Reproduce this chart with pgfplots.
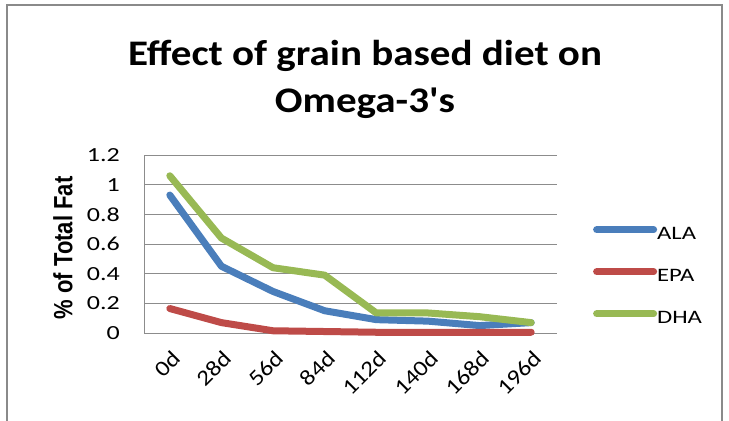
\documentclass[border=0pt]{standalone}
\usepackage{pgfplots}
\pgfplotsset{compat=1.18}
\usepackage{fontspec}
\setmainfont{Carlito}[FakeStretch=1.3]
\newfontfamily\titlefont{Carlito}[FakeStretch=1.14, Ligatures=TeXOff]
\newfontfamily\xtickfont{Carlito}[FakeStretch=1.15]
\newfontfamily\ylabfont{Liberation Sans}
\definecolor{alac}{HTML}{4A7EBB}
\definecolor{epac}{HTML}{BE4B48}
\definecolor{dhac}{HTML}{98B954}
\definecolor{gridc}{HTML}{8C8C8C}
\definecolor{framec}{HTML}{8A8A8A}
\begin{document}
\begin{tikzpicture}[x=1bp,y=1bp]
\useasboundingbox (0,0) rectangle (729,420);
\draw[framec, line width=1.6bp] (7,-20) -- (7,415) -- (722,415) -- (722,-20);
\node[anchor=base, inner sep=0pt, font=\titlefont\fontsize{36bp}{42bp}\selectfont\bfseries] at (365,355) {Effect of grain based diet on};
\node[anchor=base, inner sep=0pt, font=\titlefont\fontsize{36bp}{42bp}\selectfont\bfseries] at (365,308) {Omega-3's};
\begin{axis}[
  at={(144bp,87bp)}, anchor=south west,
  scale only axis, width=413bp, height=178bp,
  xmin=-0.5, xmax=7.5, ymin=0, ymax=1.2,
  xtick={0,...,7},
  xticklabels={0d,28d,56d,84d,112d,140d,168d,196d},
  ytick={0,0.2,...,1.2},
  yticklabels={0,0.2,0.4,0.6,0.8,1,1.2},
  axis x line*=bottom, axis y line*=left,
  axis line style={gridc, line width=0.8bp, -},
  major tick length=0pt,
  ymajorgrids, grid style={gridc, line width=0.8bp},
  /pgf/number format/assume math mode=true,
  yticklabel style={font=\fontsize{20bp}{24bp}\selectfont, anchor=east, inner sep=0pt, xshift=-24bp},
  xticklabel style={font=\fontsize{22bp}{26bp}\xtickfont, xshift=1bp, yshift=-16bp, rotate=45, anchor=north east, inner sep=0pt},
  ylabel={\ylabfont\bfseries\fontsize{22bp}{26bp}\selectfont \% of Total Fat},
  ylabel style={at={(axis description cs:-0.196,0.478)}, anchor=center, yscale=1.2, inner sep=0pt},
  clip=false,
  legend style={at={(axis description cs:1.087,0.604)}, anchor=north west, draw=none, fill=none, inner sep=0pt,
    font=\fontsize{19bp}{23bp}\selectfont, row sep=24bp,
    nodes={inner sep=0pt, text height=14bp, text depth=4bp, anchor=west}},
  legend cell align=left,
  legend image code/.code={\draw[#1, line cap=round] (0bp,5bp) -- (57bp,5bp);},
  every axis plot/.append style={line width=7bp, line join=round, line cap=round, mark=none},
]
\addplot[alac] coordinates {(0,0.93) (1,0.45) (2,0.28) (3,0.15) (4,0.09) (5,0.08) (6,0.05) (7,0.07)};
\addplot[epac] coordinates {(0,0.165) (1,0.07) (2,0.015) (3,0.01) (4,0.005) (5,0.005) (6,0.005) (7,0.005)};
\addplot[dhac] coordinates {(0,1.06) (1,0.64) (2,0.44) (3,0.39) (4,0.135) (5,0.135) (6,0.11) (7,0.07)};
\legend{ALA,EPA,DHA}
\end{axis}
\end{tikzpicture}
\end{document}
